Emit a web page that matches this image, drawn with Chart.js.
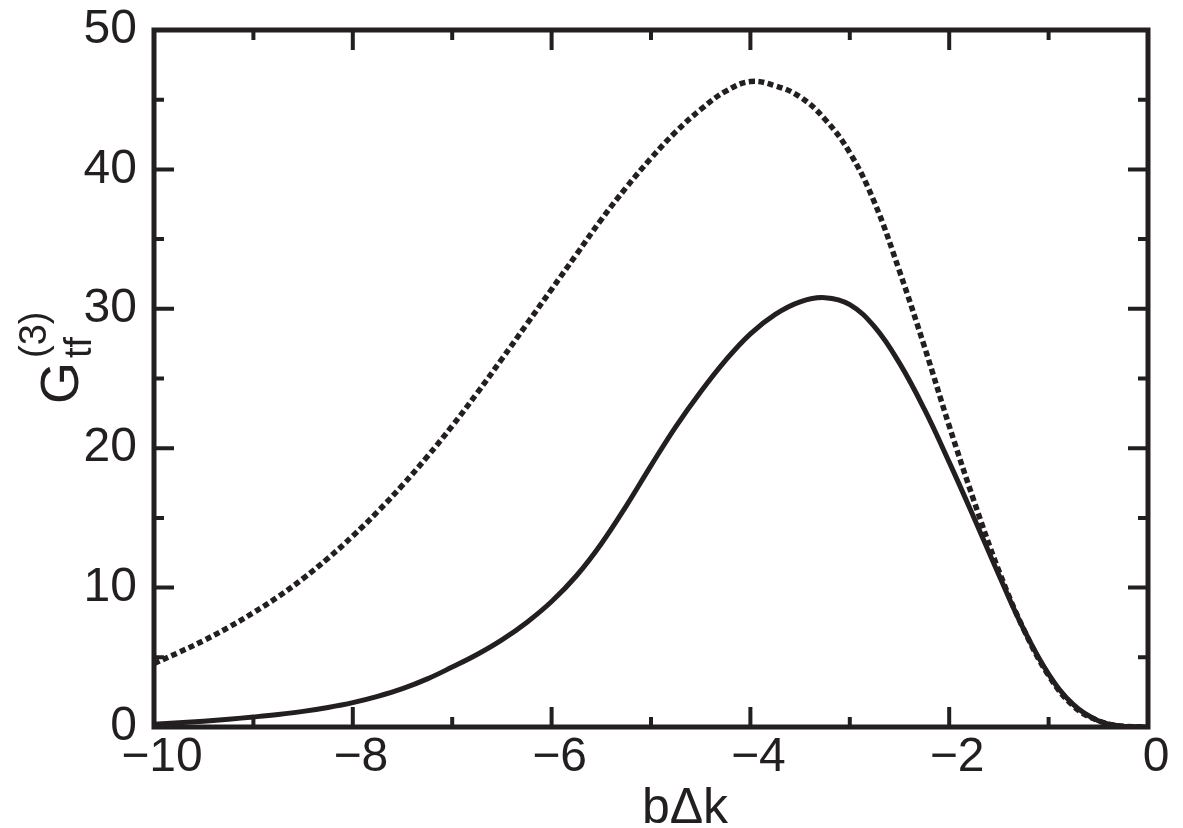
<!DOCTYPE html>
<html>
<head>
<meta charset="utf-8">
<script src="https://cdn.jsdelivr.net/npm/chart.js@4.4.1/dist/chart.umd.min.js"></script>
<style>
  html, body { margin: 0; padding: 0; background: #fff; }
  #wrap { width: 1183px; height: 828px; position: relative; }
</style>
</head>
<body>
<div id="wrap"><canvas id="myChart"></canvas></div>
<script>
// values
const xValues = [-10, -9.75, -9.5, -9.25, -9, -8.75, -8.5, -8.25, -8, -7.75, -7.5, -7.25, -7,
  -6.75, -6.5, -6.25, -6, -5.75, -5.5, -5.25, -5, -4.75, -4.5, -4.25, -4, -3.75, -3.5,
  -3.25, -3, -2.75, -2.5, -2.25, -2, -1.75, -1.5, -1.25, -1, -0.75, -0.5, -0.25, 0];
const solidValues = [0.2, 0.3, 0.42, 0.56, 0.72, 0.9, 1.12, 1.4, 1.75, 2.2, 2.75, 3.45, 4.3,
  5.2, 6.25, 7.5, 9.0, 10.85, 13.15, 15.85, 18.75, 21.55, 24.05, 26.3, 28.2, 29.6, 30.5,
  30.8, 30.3, 28.7, 26.1, 22.8, 19.0, 15.0, 10.9, 7.0, 3.8, 1.6, 0.45, 0.05, 0];
const dashedValues = [4.55, 5.35, 6.2, 7.15, 8.2, 9.35, 10.65, 12.1, 13.7, 15.45, 17.35, 19.4, 21.6,
  23.95, 26.4, 28.9, 31.4, 33.9, 36.4, 38.7, 40.8, 42.7, 44.3, 45.6, 46.3, 46.0, 45.2,
  43.6, 41.2, 37.6, 32.7, 27.3, 21.6, 16.2, 11.2, 7.0, 3.7, 1.5, 0.45, 0.05, 0];
const xTicks = [-10, -8, -6, -4, -2, 0];
const yTicks = [0, 10, 20, 30, 40, 50];

const ink = '#231f20';
const font = 'Liberation Sans, Arial, Helvetica, sans-serif';

function toPoints(ys) {
  return xValues.map((x, i) => ({ x: x, y: ys[i] }));
}

// frame with inward ticks on all four sides, plus axis titles
const framePlugin = {
  id: 'frame',
  afterDatasetsDraw(chart) {
    const ctx = chart.ctx;
    const a = chart.chartArea;
    const xs = chart.scales.x, ys = chart.scales.y;
    ctx.save();
    ctx.strokeStyle = ink;
    ctx.lineWidth = 5;
    ctx.lineCap = 'butt';
    ctx.strokeRect(a.left, a.top, a.right - a.left, a.bottom - a.top);
    ctx.lineWidth = 4;
    for (let v = -10; v <= 0; v += 1) {
      const px = xs.getPixelForValue(v);
      const len = v % 2 === 0 ? 20 : 10;
      ctx.beginPath();
      ctx.moveTo(px, a.bottom); ctx.lineTo(px, a.bottom - len);
      ctx.moveTo(px, a.top); ctx.lineTo(px, a.top + len);
      ctx.stroke();
    }
    for (let v = 0; v <= 50; v += 5) {
      const py = ys.getPixelForValue(v);
      const len = v % 10 === 0 ? 20 : 10;
      ctx.beginPath();
      ctx.moveTo(a.left, py); ctx.lineTo(a.left + len, py);
      ctx.moveTo(a.right, py); ctx.lineTo(a.right - len, py);
      ctx.stroke();
    }
    // x title
    ctx.fillStyle = ink;
    ctx.font = '50px ' + font;
    ctx.textAlign = 'center';
    ctx.textBaseline = 'alphabetic';
    ctx.fillText('b\u0394k', 685, 823);
    // y title: G with subscript tf and superscript (3), rotated
    ctx.translate(78, 404);
    ctx.rotate(-Math.PI / 2);
    ctx.textAlign = 'left';
    ctx.font = '54px ' + font;
    ctx.fillText('G', 0, 0);
    ctx.font = '38px ' + font;
    ctx.fillText('tf', 46, 13);
    ctx.fillText('(3)', 46, -32);
    ctx.restore();
  }
};

const ctx = document.getElementById('myChart').getContext('2d');

new Chart(ctx, {
  type: 'line',
  data: {
    datasets: [{
      label: 'dashed',
      data: toPoints(dashedValues),
      borderColor: ink,
      borderWidth: 5.5,
      borderDash: [6, 3.5],
      borderCapStyle: 'butt',
      pointRadius: 0,
      tension: 0.4,
      fill: false
    }, {
      label: 'solid',
      data: toPoints(solidValues),
      borderColor: ink,
      borderWidth: 5,
      pointRadius: 0,
      tension: 0.4,
      fill: false
    }]
  },
  options: {
    responsive: true,
    maintainAspectRatio: false,
    animation: false,
    layout: { padding: { top: 30, right: 35, left: 0, bottom: 0 } },
    plugins: {
      legend: { display: false },
      tooltip: { enabled: false }
    },
    scales: {
      x: {
        type: 'linear',
        min: -10,
        max: 0,
        afterFit(scale) {
          scale.height = 101;
          scale.paddingLeft = 0;
          scale.paddingRight = 0;
        },
        afterBuildTicks(scale) { scale.ticks = xTicks.map(v => ({ value: v })); },
        grid: { display: false, drawTicks: false },
        border: { display: false },
        ticks: {
          color: ink,
          font: { family: font, size: 48 },
          padding: 2,
          labelOffset: 8,
          maxRotation: 0,
          callback: v => (v < 0 ? '\u2212' + Math.abs(v) : String(v))
        }
      },
      y: {
        min: 0,
        max: 50,
        afterFit(scale) {
          scale.width = 154;
          scale.paddingTop = 0;
          scale.paddingBottom = 0;
        },
        afterBuildTicks(scale) { scale.ticks = yTicks.map(v => ({ value: v })); },
        grid: { display: false, drawTicks: false },
        border: { display: false },
        ticks: {
          color: ink,
          font: { family: font, size: 48 },
          padding: 17
        }
      }
    }
  },
  plugins: [framePlugin]
});
</script>
</body>
</html>
